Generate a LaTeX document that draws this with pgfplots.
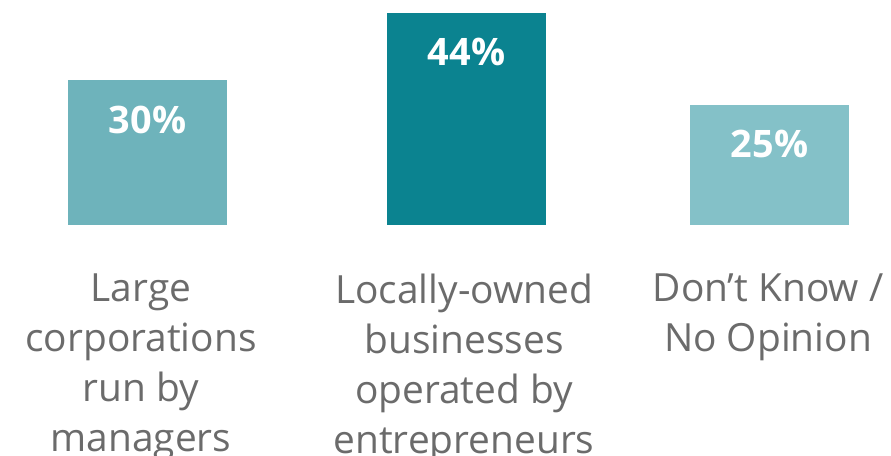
\documentclass[border=0pt]{standalone}
\usepackage{pgfplots}
\pgfplotsset{compat=1.18}
\usepackage{fontspec}
\setmainfont{Open Sans}
\definecolor{barA}{HTML}{6EB3BB}
\definecolor{barB}{HTML}{0B8390}
\definecolor{barC}{HTML}{84C1C8}
\definecolor{lbl}{HTML}{6B6B6B}
\begin{document}
\begin{tikzpicture}
\path[use as bounding box] (0,-231bp) rectangle (891bp,225bp);
\begin{axis}[
  scale only axis,
  width=891bp, height=225bp,
  xmin=0, xmax=891, ymin=0, ymax=46.68,
  ybar, bar width=159, bar shift=0pt,
  axis line style={draw=none},
  ytick=\empty,
  xtick={141,464,768},
  xticklabels={{Large\\corporations\\run by\\managers},{Locally-owned\\businesses\\operated by\\entrepreneurs},{Don’t Know /\\No Opinion}},
  major tick length=0pt,
  xticklabel style={anchor=north, inner sep=0pt, yshift=-49bp, align=center, text=lbl, font={\fontsize{39}{50}\selectfont}},
  clip=false,
  nodes near coords={\pgfmathprintnumber[assume math mode=true]{\pgfplotspointmeta}\%},
  every node near coord/.append style={anchor=base, yshift=-53bp, text=white, font={\fontsize{38}{40}\selectfont\bfseries}},
]
\addplot[fill=barA, draw=none] coordinates {(147.5,30)};
\addplot[fill=barB, draw=none] coordinates {(466.5,44)};
\addplot[fill=barC, draw=none] coordinates {(769.5,25)};
\end{axis}
\end{tikzpicture}
\end{document}
